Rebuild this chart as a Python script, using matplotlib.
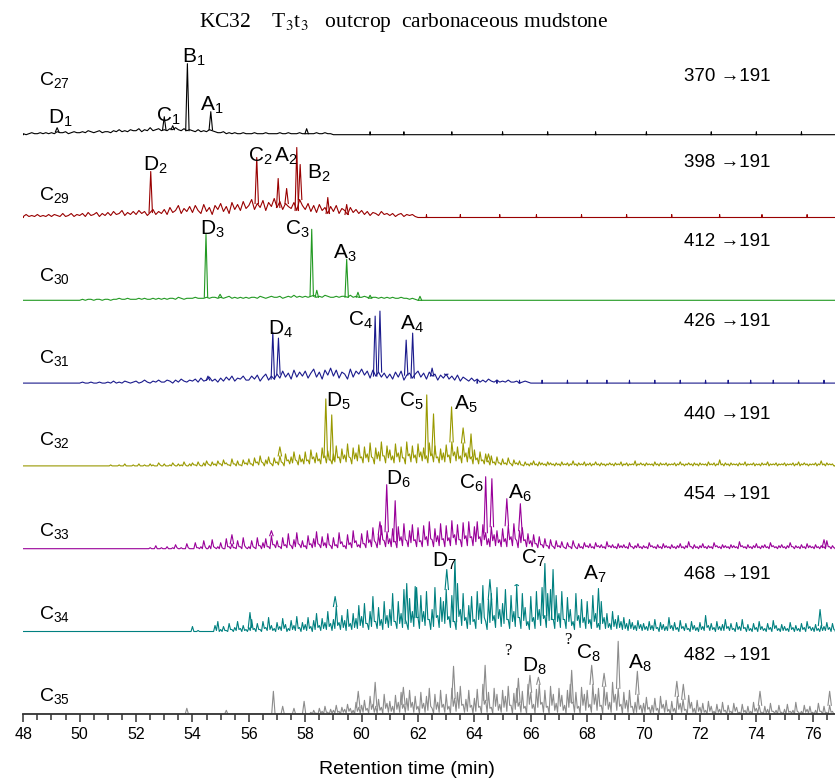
import matplotlib
matplotlib.use('Agg')
import matplotlib.pyplot as plt
from matplotlib.ticker import MultipleLocator

plt.rcParams['font.family'] = ['Liberation Sans', 'DejaVu Sans']
plt.rcParams['mathtext.fontset'] = 'custom'
plt.rcParams['mathtext.rm'] = 'Liberation Sans'
plt.rcParams['mathtext.it'] = 'Liberation Sans:italic'

# homohopany C27..C35, m/z przejscia
names = ['27', '29', '30', '31', '32', '33', '34', '35']
parents = ['370', '398', '412', '426', '440', '454', '468', '482']
colors = ['#000000', '#990000', '#229922', '#1a1a8c', '#999900', '#990099', '#008080', '#8c8c8c']

# tlo (szum) co 0.1 min, od podanego czasu startu; *_low = minima pomiedzy probkami
c27_start = 48.0
c27_noise = [1, 0, 1, 2, 1, 1, 2, 1, 2, 1,
             2, 1, 3, 2, 2, 3, 1, 2, 3, 2,
             2, 3, 2, 4, 3, 2, 3, 4, 2, 3,
             3, 2, 4, 3, 5, 3, 4, 3, 5, 4,
             4, 6, 3, 5, 4, 7, 4, 5, 6, 4,
             5, 4, 6, 5, 7, 5, 4, 6, 4, 5,
             4, 3, 5, 3, 4, 3, 5, 4, 3, 2,
             2, 3, 1, 2, 1, 2, 1, 1, 2, 1,
             1, 1, 2, 1, 1, 1, 2, 1, 1, 1,
             1, 2, 1, 1, 2, 1, 1, 1, 2, 1,
             1, 1, 1, 1, 2, 1, 1, 2, 1, 1]
c27_peaks = [(49.2, 7), (53.0, 18), (53.3, 9), (53.82, 71), (54.65, 23), (58.05, 6)]
c27_ticks = [60.3, 61.5, 63.2, 65.0, 66.6, 68.3, 70.1, 72.4, 74.0, 75.6]

c29_start = 48.0
c29_noise = [1, 3, 1, 2, 1, 3, 1, 2, 1, 3,
             1, 3, 2, 1, 4, 1, 2, 4, 1, 3,
             2, 4, 1, 5, 2, 3, 5, 1, 4, 2,
             5, 2, 6, 3, 4, 7, 2, 5, 3, 6,
             3, 7, 4, 6, 2, 5, 8, 3, 6, 4,
             8, 3, 10, 5, 7, 12, 4, 9, 6, 11,
             5, 12, 7, 4, 13, 6, 10, 3, 12, 8,
             14, 6, 11, 4, 15, 8, 13, 7, 16, 9,
             12, 18, 8, 14, 10, 17, 7, 15, 11, 19,
             10, 16, 8, 14, 11, 9, 15, 7, 18, 12,
             8, 14, 6, 12, 5, 13, 7, 10, 4, 11,
             6, 12, 4, 9, 7, 3, 10, 5, 8, 4,
             7, 3, 6, 2, 5, 4, 2, 6, 3, 4,
             2, 4, 1, 3, 4, 1, 3, 2, 3, 1]
c29_peaks = [(52.52, 46), (56.28, 60), (57.04, 39), (57.34, 29), (57.70, 70), (57.82, 53),
             (58.8, 20), (59.47, 13)]
c29_ticks = [62.3, 63.5, 64.9, 66.2, 67.8, 69.4, 71.0, 72.7, 74.2, 75.8]

c30_start = 50.0
c30_noise = [0, 1, 0, 1, 1, 0, 1, 1, 0, 1,
             1, 0, 1, 1, 2, 1, 1, 2, 1, 1,
             1, 2, 1, 2, 1, 1, 2, 1, 2, 1,
             2, 1, 2, 2, 1, 3, 2, 1, 2, 2,
             2, 3, 2, 2, 2, 3, 2, 3, 3, 2,
             3, 2, 3, 4, 2, 3, 2, 3, 2, 3,
             2, 3, 3, 2, 4, 3, 2, 3, 4, 3,
             3, 4, 2, 3, 4, 3, 5, 3, 4, 3,
             4, 3, 4, 5, 3, 4, 3, 5, 4, 3,
             3, 4, 3, 4, 4, 3, 5, 3, 4, 3,
             3, 4, 3, 2, 3, 3, 2, 3, 2, 3,
             2, 3, 2, 2, 3, 2, 2, 1, 2, 1]
c30_peaks = [(54.48, 66), (54.98, 6), (58.23, 71), (58.41, 10), (59.47, 41), (59.87, 8),
             (60.3, 5), (62.07, 4)]
c30_ticks = []

c31_start = 50.0
c31_noise = [0, 1, 0, 0, 1, 0, 0, 1, 0, 0,
             1, 0, 2, 0, 1, 0, 2, 1, 0, 1,
             2, 0, 1, 3, 1, 0, 2, 1, 3, 1,
             1, 3, 2, 0, 3, 1, 4, 2, 1, 3,
             2, 4, 1, 5, 2, 3, 6, 2, 4, 1,
             5, 2, 6, 3, 7, 2, 5, 4, 7, 3,
             3, 7, 4, 8, 2, 6, 9, 3, 7, 4,
             9, 5, 12, 6, 10, 4, 13, 6, 11, 7,
             12, 5, 10, 14, 6, 11, 4, 13, 8, 15,
             7, 13, 5, 11, 9, 4, 14, 6, 12, 9,
             14, 8, 12, 5, 13, 7, 11, 6, 10, 5,
             9, 4, 11, 6, 12, 3, 8, 10, 5, 9,
             12, 6, 10, 4, 11, 7, 9, 3, 8, 5,
             9, 4, 7, 3, 8, 2, 6, 4, 2, 5,
             2, 4, 1, 3, 1, 4, 2, 1, 3, 1,
             2, 1, 3, 1, 1, 2, 0, 1, 2, 1]
c31_peaks = [(54.55, 7), (56.85, 51), (57.05, 45), (60.48, 67), (60.65, 72), (61.58, 43),
             (61.81, 50), (62.5, 15), (63.0, 8)]
c31_ticks = [64.1, 64.8, 65.6, 66.4, 67.3, 68.0, 68.7, 69.5, 70.4, 71.3, 72.2, 73.0,
             73.8, 74.6, 75.5, 76.4]

c32_start = 51.0
c32_noise = [0, 1, 0, 0, 1, 0, 2, 0, 0, 1,
             0, 2, 0, 1, 0, 2, 1, 0, 3, 0,
             2, 0, 1, 3, 0, 2, 1, 4, 0, 2,
             3, 1, 4, 0, 3, 5, 1, 4, 2, 5,
             2, 6, 3, 1, 7, 2, 5, 1, 6, 3,
             7, 2, 8, 4, 10, 3, 6, 9, 2, 8,
             4, 10, 3, 12, 6, 9, 14, 5, 11, 7,
             14, 6, 16, 9, 13, 7, 18, 10, 15, 6,
             12, 20, 9, 17, 11, 22, 8, 18, 13, 21,
             9, 19, 12, 23, 8, 18, 14, 24, 10, 20,
             16, 10, 22, 13, 19, 8, 24, 12, 20, 11,
             22, 14, 18, 10, 23, 12, 20, 9, 17, 13,
             21, 11, 24, 14, 19, 10, 23, 13, 18, 9,
             16, 8, 14, 6, 12, 5, 10, 4, 9, 3,
             7, 3, 8, 2, 6, 3, 5, 1, 4, 2,
             3, 5, 2, 4, 3, 2, 4, 3, 2, 3,
             2, 4, 2, 3, 2, 5, 2, 3, 2, 4,
             2, 3, 2, 4, 2, 3, 2, 2, 3, 2,
             3, 2, 4, 2, 3, 2, 2, 5, 2, 3,
             2, 3, 2, 2, 4, 2, 3, 2, 3, 2,
             2, 3, 2, 4, 2, 2, 3, 2, 3, 2,
             3, 2, 2, 4, 2, 3, 2, 6, 2, 3,
             2, 3, 2, 2, 3, 2, 4, 2, 2, 3,
             2, 2, 3, 2, 4, 2, 2, 3, 2, 2,
             3, 2, 2, 3, 2, 4, 2, 3, 2, 2,
             2, 3, 2, 5, 2, 3, 2, 2]
c32_low = [0, 0, 0, 0, 0, 0, 0, 0, 0, 0,
           0, 0, 0, 0, 0, 0, 0, 0, 1, 0,
           0, 0, 0, 1, 0, 0, 0, 1, 0, 0,
           1, 0, 1, 0, 0, 2, 0, 1, 0, 2,
           0, 2, 1, 0, 2, 0, 1, 0, 2, 1,
           2, 0, 3, 1, 4, 0, 2, 3, 0, 3,
           1, 4, 0, 5, 2, 3, 6, 1, 4, 2,
           5, 2, 7, 3, 5, 2, 8, 3, 6, 2,
           4, 8, 3, 7, 4, 9, 2, 7, 5, 8,
           3, 8, 4, 9, 2, 7, 5, 10, 3, 8,
           6, 3, 9, 4, 8, 2, 10, 4, 8, 3,
           9, 5, 7, 3, 10, 4, 8, 3, 6, 4,
           9, 3, 10, 5, 7, 3, 9, 4, 7, 2,
           6, 2, 5, 2, 4, 1, 3, 1, 3, 1,
           2, 1, 3, 0, 2, 1, 1, 0, 1, 0,
           1, 1, 0, 1, 1, 0, 1, 1, 0, 1,
           0, 1, 1, 0, 1, 1, 0, 1, 1, 0,
           1, 0, 1, 1, 0, 1, 0, 1, 1, 0,
           1, 1, 0, 1, 0, 1, 1, 0, 1, 1,
           0, 1, 1, 0, 1, 0, 1, 1, 0, 1,
           1, 0, 1, 1, 0, 1, 1, 0, 1, 0,
           1, 1, 0, 1, 1, 0, 1, 1, 0, 1,
           0, 1, 1, 0, 1, 1, 0, 1, 1, 0,
           1, 0, 1, 1, 0, 1, 1, 0, 1, 1,
           0, 1, 1, 0, 1, 0, 1, 1, 0, 1,
           1, 0, 1, 1, 0, 1, 1, 0]
c32_peaks = [(57.1, 19), (58.73, 67), (58.94, 51), (62.31, 71), (62.55, 52), (63.19, 59),
             (63.6, 38), (63.88, 32), (64.5, 12)]
c32_ticks = []

c33_start = 52.0
c33_noise = [0, 0, 0, 0, 0, 1, 0, 3, 0, 1,
             0, 2, 0, 1, 4, 0, 1, 0, 5, 0,
             0, 6, 1, 2, 8, 0, 3, 9, 1, 2,
             6, 0, 10, 2, 5, 1, 8, 2, 11, 1,
             2, 8, 1, 11, 3, 6, 10, 2, 13, 4,
             8, 2, 11, 4, 15, 3, 9, 16, 4, 8,
             3, 13, 5, 10, 17, 4, 12, 6, 15, 3,
             11, 4, 16, 7, 3, 14, 6, 18, 8, 4,
             15, 5, 18, 9, 21, 6, 14, 23, 8, 17,
             10, 20, 7, 22, 12, 25, 8, 18, 24, 9,
             21, 8, 23, 12, 27, 9, 20, 13, 25, 10,
             23, 11, 28, 14, 24, 9, 26, 13, 27, 12,
             22, 27, 12, 24, 16, 10, 22, 14, 18, 9,
             20, 10, 23, 12, 25, 8, 18, 21, 9, 15,
             8, 14, 5, 12, 4, 10, 3, 9, 2, 8,
             3, 7, 1, 6, 2, 8, 1, 5, 2, 6,
             3, 5, 2, 6, 3, 4, 2, 7, 3, 4,
             2, 5, 3, 4, 2, 6, 2, 3, 5, 2,
             3, 2, 6, 3, 2, 4, 2, 5, 3, 2,
             4, 2, 3, 5, 2, 3, 7, 2, 4, 2,
             3, 5, 2, 3, 2, 6, 3, 2, 4, 3,
             2, 4, 3, 2, 7, 3, 2, 4, 2, 3,
             5, 2, 3, 4, 2, 6, 3, 2, 3, 4,
             2, 3, 6, 2, 3, 2, 4, 2, 5, 3,
             2, 4, 2, 3, 2, 8, 2, 3]
c33_low = [0, 0, 0, 0, 0, 0, 0, 0, 0, 0,
           0, 0, 0, 0, 1, 0, 0, 0, 1, 0,
           0, 1, 0, 0, 2, 0, 0, 2, 0, 0,
           1, 0, 2, 0, 1, 0, 2, 0, 3, 0,
           0, 2, 0, 3, 0, 1, 2, 0, 4, 1,
           2, 0, 3, 1, 4, 0, 2, 5, 1, 2,
           0, 4, 1, 2, 5, 1, 3, 1, 4, 0,
           3, 1, 5, 2, 0, 4, 1, 6, 2, 1,
           5, 1, 6, 2, 8, 1, 4, 9, 2, 5,
           2, 7, 1, 8, 3, 9, 2, 6, 8, 2,
           7, 2, 9, 3, 10, 2, 7, 3, 9, 2,
           8, 3, 11, 4, 9, 2, 10, 3, 11, 3,
           7, 10, 3, 9, 4, 2, 8, 3, 6, 2,
           7, 2, 9, 3, 10, 1, 6, 8, 2, 5,
           2, 5, 1, 4, 1, 3, 0, 3, 0, 2,
           1, 2, 0, 2, 0, 3, 0, 1, 0, 2,
           1, 1, 0, 2, 1, 1, 0, 2, 1, 1,
           0, 1, 1, 1, 0, 2, 0, 1, 1, 0,
           1, 0, 2, 1, 0, 1, 0, 1, 1, 0,
           1, 0, 1, 1, 0, 1, 2, 0, 1, 0,
           1, 1, 0, 1, 0, 2, 1, 0, 1, 1,
           0, 1, 1, 0, 2, 1, 0, 1, 0, 1,
           1, 0, 1, 1, 0, 2, 1, 0, 1, 1,
           0, 1, 2, 0, 1, 0, 1, 0, 1, 1,
           0, 1, 0, 1, 0, 2, 0, 1]
c33_peaks = [(55.4, 14), (56.8, 18), (60.65, 27), (60.89, 64), (61.19, 48), (64.4, 72),
             (64.62, 70), (65.15, 50), (65.63, 45), (76.4, 9)]
c33_ticks = []

c34_start = 54.0
c34_noise = [5, 0, 1, 0, 0, 0, 0, 0, 6, 10,
             2, 5, 1, 8, 2, 4, 10, 3, 6, 2,
             4, 12, 3, 8, 2, 10, 4, 14, 6, 3,
             9, 5, 13, 7, 3, 11, 6, 15, 4, 9,
             7, 14, 5, 11, 18, 6, 13, 9, 20, 8,
             12, 25, 9, 16, 11, 22, 8, 18, 13, 26,
             15, 28, 8, 20, 35, 10, 24, 12, 30, 16,
             22, 38, 10, 30, 18, 42, 8, 33, 20, 45,
             14, 36, 20, 40, 12, 22, 44, 16, 34, 30,
             42, 15, 36, 10, 48, 22, 38, 14, 26, 35,
             12, 40, 28, 46, 10, 32, 38, 16, 44, 22,
             28, 42, 12, 36, 20, 46, 14, 38, 24, 10,
             35, 14, 40, 22, 44, 16, 38, 42, 12, 36,
             18, 40, 12, 34, 22, 10, 38, 16, 32, 14,
             30, 12, 36, 18, 8, 30, 14, 18, 8, 20,
             12, 16, 10, 14, 8, 12, 9, 6, 11, 7,
             8, 5, 10, 6, 12, 4, 9, 7, 5, 14,
             6, 9, 4, 11, 5, 8, 3, 10, 6, 4,
             9, 5, 16, 6, 8, 4, 10, 5, 7, 12,
             5, 8, 3, 9, 5, 12, 4, 7, 3, 8,
             4, 10, 5, 3, 8, 4, 11, 6, 3, 7,
             5, 3, 9, 4, 6, 3, 8, 4, 10, 5,
             4, 7, 3, 6, 5, 9, 4, 8]
c34_low = [0, 0, 0, 0, 0, 0, 0, 0, 1, 0,
           0, 1, 0, 2, 0, 1, 2, 0, 1, 0,
           1, 2, 0, 2, 0, 3, 1, 2, 1, 0,
           2, 1, 3, 0, 1, 2, 1, 3, 0, 2,
           1, 3, 0, 2, 4, 1, 3, 2, 5, 1,
           3, 6, 2, 4, 1, 5, 2, 4, 3, 6,
           4, 8, 2, 5, 10, 3, 6, 2, 8, 4,
           6, 10, 3, 8, 4, 12, 2, 9, 5, 14,
           3, 10, 6, 12, 2, 5, 14, 4, 10, 8,
           12, 4, 10, 2, 15, 6, 11, 3, 7, 10,
           3, 12, 8, 14, 2, 9, 11, 4, 13, 5,
           8, 12, 3, 10, 5, 14, 3, 11, 6, 2,
           10, 3, 12, 6, 13, 4, 11, 12, 3, 10,
           4, 12, 3, 10, 6, 2, 11, 4, 9, 3,
           8, 3, 10, 4, 2, 8, 3, 4, 2, 5,
           3, 4, 2, 3, 1, 3, 2, 1, 3, 1,
           2, 1, 2, 1, 3, 0, 2, 1, 1, 3,
           1, 2, 0, 3, 1, 2, 0, 2, 1, 0,
           2, 1, 4, 1, 2, 0, 2, 1, 1, 3,
           1, 2, 0, 2, 1, 3, 0, 1, 0, 2,
           0, 2, 1, 0, 2, 0, 3, 1, 0, 1,
           1, 0, 2, 0, 1, 0, 2, 0, 3, 1,
           0, 1, 0, 1, 1, 2, 0, 2]
c34_peaks = [(56.04, 19), (59.06, 35), (61.6, 48), (61.95, 44), (63.02, 62), (63.31, 72),
             (64.55, 52), (65.5, 47), (66.5, 68), (66.79, 62), (68.4, 43), (76.26, 22)]
c34_ticks = []

c35_start = 58.0
c35_noise = [0, 0, 2, 4, 1, 6, 3, 8, 2, 5,
             4, 9, 3, 7, 5, 10, 6, 4, 12, 7,
             9, 14, 6, 18, 10, 8, 15, 7, 20, 11,
             13, 8, 19, 12, 22, 10, 16, 24, 12, 18,
             8, 22, 11, 18, 26, 6, 20, 12, 24, 10,
             20, 8, 26, 16, 22, 28, 10, 15, 24, 9,
             16, 25, 8, 30, 14, 22, 7, 26, 20, 10,
             24, 18, 28, 9, 21, 26, 12, 23, 8, 30,
             22, 10, 25, 30, 12, 24, 8, 28, 20, 11,
             26, 19, 9, 24, 30, 12, 22, 8, 27, 20,
             24, 10, 30, 20, 26, 9, 28, 22, 12, 32,
             20, 26, 10, 22, 14, 24, 8, 12, 20, 9,
             11, 17, 7, 9, 16, 6, 18, 10, 14, 5,
             13, 6, 18, 11, 15, 5, 19, 12, 6, 14,
             7, 11, 4, 13, 8, 3, 10, 5, 12, 4,
             9, 3, 11, 7, 2, 10, 4, 8, 3, 12,
             6, 9, 2, 8, 5, 11, 3, 4, 9, 2,
             5, 10, 3, 4, 12, 2, 3, 9, 5, 8,
             2, 4, 11, 3, 8, 2, 9, 3]
c35_low = [0, 0, 0, 1, 0, 1, 0, 2, 0, 1,
           1, 2, 0, 2, 1, 3, 1, 0, 3, 1,
           2, 4, 1, 5, 2, 1, 4, 1, 6, 2,
           3, 1, 5, 2, 6, 2, 4, 7, 2, 5,
           1, 6, 2, 4, 8, 1, 5, 2, 7, 2,
           5, 1, 8, 3, 6, 9, 2, 3, 7, 1,
           3, 7, 1, 10, 2, 6, 1, 8, 4, 2,
           7, 3, 9, 1, 5, 8, 2, 6, 1, 10,
           6, 1, 7, 10, 2, 7, 1, 9, 4, 2,
           8, 4, 1, 7, 11, 2, 6, 1, 9, 4,
           7, 2, 10, 4, 8, 1, 9, 5, 2, 12,
           4, 8, 1, 6, 2, 7, 1, 2, 5, 1,
           2, 5, 1, 2, 4, 0, 6, 2, 3, 0,
           3, 0, 5, 2, 4, 0, 6, 2, 0, 3,
           1, 2, 0, 3, 1, 0, 2, 0, 3, 0,
           2, 0, 3, 1, 0, 2, 0, 1, 0, 3,
           1, 2, 0, 1, 0, 3, 1, 0, 2, 0,
           0, 2, 1, 0, 3, 0, 0, 2, 1, 1,
           0, 0, 3, 0, 1, 0, 2, 0]
c35_peaks = [(53.8, 6), (55.2, 4), (56.87, 23), (57.2, 8), (57.6, 6), (57.96, 13),
             (59.88, 23), (60.48, 32), (61.48, 27), (63.26, 48), (64.38, 49), (65.56, 36),
             (65.97, 39), (66.27, 37), (67.45, 44), (68.16, 49), (68.6, 41), (69.1, 73),
             (69.78, 43), (71.18, 33), (71.41, 30), (74.13, 23), (76.6, 23)]
c35_ticks = []

starts = [c27_start, c29_start, c30_start, c31_start, c32_start, c33_start, c34_start, c35_start]
noises = [c27_noise, c29_noise, c30_noise, c31_noise, c32_noise, c33_noise, c34_noise, c35_noise]
lows = [None, None, None, None, c32_low, c33_low, c34_low, c35_low]
peaks = [c27_peaks, c29_peaks, c30_peaks, c31_peaks, c32_peaks, c33_peaks, c34_peaks, c35_peaks]
ticks = [c27_ticks, c29_ticks, c30_ticks, c31_ticks, c32_ticks, c33_ticks, c34_ticks, c35_ticks]

# opisy pikow: (tekst, czas, wysokosc nad linia bazowa)
peak_labels = [
    [('D$_1$', 48.87, 11), ('C$_1$', 52.71, 13), ('B$_1$', 53.62, 72), ('A$_1$', 54.27, 24)],
    [('D$_2$', 52.24, 47), ('C$_2$', 55.98, 56), ('A$_2$', 56.89, 56), ('B$_2$', 58.05, 39)],
    [('D$_3$', 54.27, 66), ('C$_3$', 57.28, 66), ('A$_3$', 59.0, 42)],
    [('D$_4$', 56.69, 48), ('C$_4$', 59.51, 57), ('A$_4$', 61.37, 53)],
    [('D$_5$', 58.74, 59), ('C$_5$', 61.33, 59), ('A$_5$', 63.28, 56)],
    [('D$_6$', 60.86, 64), ('C$_6$', 63.47, 60), ('A$_6$', 65.18, 50)],
    [('D$_7$', 62.49, 65), ('C$_7$', 65.64, 68), ('A$_7$', 67.84, 52)],
    [('D$_8$', 65.68, 43), ('C$_8$', 67.61, 56), ('A$_8$', 69.46, 46)],
]
name_rel = [50, 17, 19, 20, 21, 13, 13, 13]
mz_rel = [58, 55, 59, 62, 51, 54, 57, 59]

fig = plt.figure(figsize=(8.35, 7.81), dpi=100)
ax = fig.add_axes([0.0279, 0.0854, 0.9721, 0.8762])
ax.set_xlim(48, 76.79)
ax.set_ylim(0, 684.3)

spacing = 82.8
w = 0.06
for i in range(8):
    off = (7 - i) * spacing
    c = colors[i]
    st = starts[i]
    nz = noises[i]
    ts, ys = [], []
    for k in range(len(nz)):
        ts.append(st + 0.1 * k)
        ys.append(nz[k])
        if lows[i] is not None:
            ts.append(st + 0.1 * k + 0.05)
            ys.append(lows[i][k])
    x = [48.0, st - 0.05] + ts + [ts[-1] + 0.1, 76.8]
    y = [0, 0] + ys + [0, 0]
    ax.plot(x, [off + v for v in y], color=c, lw=0.8)
    for t, h in peaks[i]:
        k = int(round((t - st) / 0.1))
        b = nz[k] if 0 <= k < len(nz) else 0
        ax.plot([t - w, t, t + w], [off + b, off + h, off + b], color=c, lw=0.8)
    for t in ticks[i]:
        ax.plot([t - 0.015, t, t + 0.015], [off, off + 3, off], color=c, lw=0.7)
    for s, t, r in peak_labels[i]:
        ax.text(t, off + r, s, fontsize=15, ha='left', va='baseline')
    ax.text(48.55, off + name_rel[i], 'C$_{%s}$' % names[i], fontsize=14, ha='left', va='baseline')
    ax.text(74.49, off + mz_rel[i], parents[i] + ' \u2192191', fontsize=13.5, ha='right', va='center')

# znaki zapytania przy C35
ax.text(65.2, 63, '?', fontsize=12, family='Liberation Serif', ha='center', va='center')
ax.text(67.33, 74, '?', fontsize=12, family='Liberation Serif', ha='center', va='center')

for s in ['top', 'left', 'right']:
    ax.spines[s].set_visible(False)
ax.spines['bottom'].set_color('#333333')
ax.spines['bottom'].set_linewidth(1.3)
ax.set_yticks([])
ax.xaxis.set_major_locator(MultipleLocator(2))
ax.xaxis.set_minor_locator(MultipleLocator(0.5))
ax.tick_params(axis='x', which='major', length=6, width=1.1, color='#333333', labelsize=11.5, pad=3)
ax.tick_params(axis='x', which='minor', length=4, width=1.1, color='#333333')

fig.text(407 / 835, 1 - 770 / 781, 'Retention time (min)', fontsize=14, ha='center', va='center')
fig.text(404 / 835, 1 - 23 / 781, r'KC32    T$_3$t$_3$   outcrop  carbonaceous mudstone',
         fontsize=15.5, family='Liberation Serif', math_fontfamily='stix', ha='center', va='center')

plt.savefig('out.png', dpi=100)
